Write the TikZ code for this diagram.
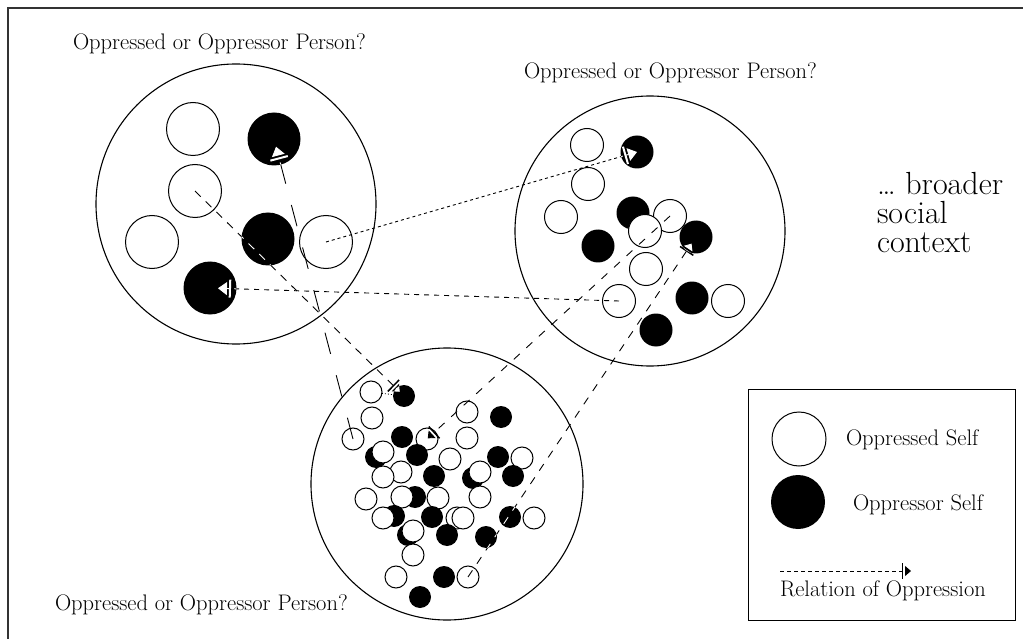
\documentclass[tikz,border=0pt]{standalone}
\usetikzlibrary{arrows.meta}
\begin{document}
\begin{tikzpicture}[x=1pt,y=-1pt,
  every node/.style={inner sep=0pt, outer sep=0pt},
  big/.style={circle, draw, line width=1.1pt, inner sep=0pt},
  opn/.style={circle, draw, fill=white, line width=1pt, inner sep=0pt},
  fil/.style={circle, fill=black, inner sep=0pt},
  szL/.style={minimum size=53pt},
  szM/.style={minimum size=33pt},
  szS/.style={minimum size=22pt},
  lbl/.style={font=\fontsize{22.5}{26}\selectfont, anchor=base west},
  ctxs/.style={font=\fontsize{32}{32}\selectfont, anchor=base west},
  rel/.style={line width=0.9pt, -{Bar[width=16pt,line width=1.5pt,sep=2pt]Triangle[length=6pt,width=10pt]}},
  relbig/.style={line width=0.9pt, -{Bar[width=18pt,line width=2pt,sep=2pt]Triangle[length=9pt,width=13pt]}},
]
\useasboundingbox (0,0) rectangle (1023,639);
% outer frame
\draw[line width=1.5pt, black!80] (8,660) -- (8,8) -- (1040,8);

% ---------- person 1 ----------
\node[big, minimum size=280pt] (P1) at (236,204) {};
\node[opn,szL] (a1) at (193,129) {};
\node[fil,szL] (a2) at (274,139) {};
\node[opn,szL] (a3) at (195,191) {};
\node[opn,szL] (a4) at (152,242) {};
\node[fil,szL] (a5) at (268,239) {};
\node[opn,szL] (a6) at (326,242) {};
\node[fil,szL] (a7) at (210,288) {};

% ---------- person 2 ----------
\node[big, minimum size=270pt] (P2) at (650,231) {};
\node[opn,szM] (b1) at (587,145) {};
\node[fil,szM] (b2) at (637,152) {};
\node[opn,szM] (b3) at (588,184) {};
\node[opn,szM] (b4) at (561,217) {};
\node[fil,szM] (b5) at (633,213) {};
\node[opn,szM] (b6) at (670,216) {};
\node[opn,szM] (b7) at (645,231) {};
\node[fil,szM] (b8) at (696,237) {};
\node[fil,szM] (b9) at (598,246) {};
\node[opn,szM] (b10) at (646,269) {};
\node[opn,szM] (b11) at (619,301) {};
\node[fil,szM] (b12) at (692,298) {};
\node[opn,szM] (b13) at (728,301) {};
\node[fil,szM] (b14) at (656,330) {};

% ---------- person 3 ----------
\node[big, minimum size=272pt] (P3) at (447,484) {};
\node[opn,szS] (c1) at (371,392) {};
\node[fil,szS] (c2) at (404,396) {};
\node[opn,szS] (c3) at (372,418) {};
\node[opn,szS] (c4) at (353,439) {};
\node[fil,szS] (c5) at (402,437) {};
\node[opn,szS] (c6) at (427,439) {};
\node[fil,szS] (c7) at (417,455) {};
\node[opn,szS] (c8) at (467,412) {};
\node[fil,szS] (c9) at (501,417) {};
\node[opn,szS] (c10) at (467,438) {};
\node[opn,szS] (c11) at (450,459) {};
\node[fil,szS] (c12) at (498,457) {};
\node[opn,szS] (c13) at (522,458) {};
\node[fil,szS] (c14) at (376,457) {};
\node[opn,szS] (c15) at (383,452) {};
\node[opn,szS] (c16) at (401,472) {};
\node[opn,szS] (c17) at (383,477) {};
\node[fil,szS] (c18) at (434,476) {};
\node[fil,szS] (c19) at (473,478) {};
\node[opn,szS] (c20) at (480,472) {};
\node[fil,szS] (c21) at (513,476) {};
\node[opn,szS] (c22) at (366,499) {};
\node[fil,szS] (c23) at (415,497) {};
\node[opn,szS] (c24) at (402,497) {};
\node[opn,szS] (c25) at (438,498) {};
\node[opn,szS] (c26) at (480,497) {};
\node[fil,szS] (c27) at (432,517) {};
\node[opn,szS] (c28) at (457,518) {};
\node[opn,szS] (c29) at (463,518) {};
\node[fil,szS] (c30) at (510,517) {};
\node[opn,szS] (c31) at (534,518) {};
\node[fil,szS] (c32) at (394,516) {};
\node[opn,szS] (c33) at (383,518) {};
\node[fil,szS] (c34) at (408,535) {};
\node[opn,szS] (c35) at (413,531) {};
\node[fil,szS] (c36) at (447,535) {};
\node[fil,szS] (c37) at (486,537) {};
\node[opn,szS] (c38) at (413,555) {};
\node[opn,szS] (c39) at (396,577) {};
\node[fil,szS] (c40) at (444,577) {};
\node[opn,szS] (c41) at (468,577) {};
\node[fil,szS] (c42) at (420,597) {};

% ---------- relations ----------
\newcommand\myrellines[1]{%
  \draw[rel,#1,dash pattern=on 8pt off 7pt, shorten >=6pt] (a3.center) -- (c2.center);
  \draw[relbig,#1,dash pattern=on 22pt off 22pt, shorten >=8pt] (c4.center) -- (a2.center);
  \draw[relbig,#1,dash pattern=on 3pt off 3pt, shorten >=0pt] (a6.center) -- (b2.center);
  \draw[relbig,#1,dash pattern=on 5pt off 5pt, shorten >=8pt] (b11.center) -- (a7.center);
  \draw[rel,#1,dash pattern=on 8pt off 8pt, shorten >=8pt] (c41.center) -- (b8.center);
  \draw[rel,#1,dash pattern=on 8pt off 9pt, shorten >=1pt] (b6.center) -- (c6.center);
  \draw[#1,line width=0.8pt,dash pattern=on 1pt off 2pt] (c1) -- (c2);
}
\myrellines{black}
\begin{scope}
  \clip (a2.center) circle[radius=26.5pt] (a5.center) circle[radius=26.5pt]
        (a7.center) circle[radius=26.5pt]
        (b2.center) circle[radius=16.5pt] (b5.center) circle[radius=16.5pt]
        (b8.center) circle[radius=16.5pt] (b9.center) circle[radius=16.5pt]
        (b12.center) circle[radius=16.5pt] (b14.center) circle[radius=16.5pt]
        (c2.center) circle[radius=11pt] (c5.center) circle[radius=11pt]
        (c7.center) circle[radius=11pt] (c9.center) circle[radius=11pt]
        (c12.center) circle[radius=11pt] (c18.center) circle[radius=11pt]
        (c21.center) circle[radius=11pt] (c27.center) circle[radius=11pt]
        (c30.center) circle[radius=11pt] (c36.center) circle[radius=11pt]
        (c37.center) circle[radius=11pt] (c40.center) circle[radius=11pt]
        (c42.center) circle[radius=11pt];
  \myrellines{white}
\end{scope}

% ---------- labels ----------
\node[lbl] (t1) at (73,50) {Oppressed or Oppressor Person?};
\node[lbl] (t2) at (524,79) {Oppressed or Oppressor Person?};
\node[lbl] (t3) at (55,610) {Oppressed or Oppressor Person?};
\node[ctxs] (ctx1) at (877,195) {\ldots\ broader};
\node[ctxs] (ctx2) at (877,224) {social};
\node[ctxs] (ctx3) at (877,253) {context};

% ---------- legend ----------
\node[draw, line width=1pt, minimum width=267pt, minimum height=231pt] (legend) at (881.5,504.5) {};
\node[opn, minimum size=54pt] (lo) at (799,439) {};
\node[fil, minimum size=54pt] (lf) at (798,502) {};
\node[lbl] (lt1) at (846,445) {Oppressed Self};
\node[lbl] (lt2) at (853,510) {Oppressor Self};
\coordinate (ls) at (780,571);
\coordinate (le) at (911,571);
\draw[rel, dash pattern=on 4pt off 3pt] (ls) -- (le);
\node[lbl] (lt3) at (780,596) {Relation of Oppression};
\end{tikzpicture}
\end{document}
